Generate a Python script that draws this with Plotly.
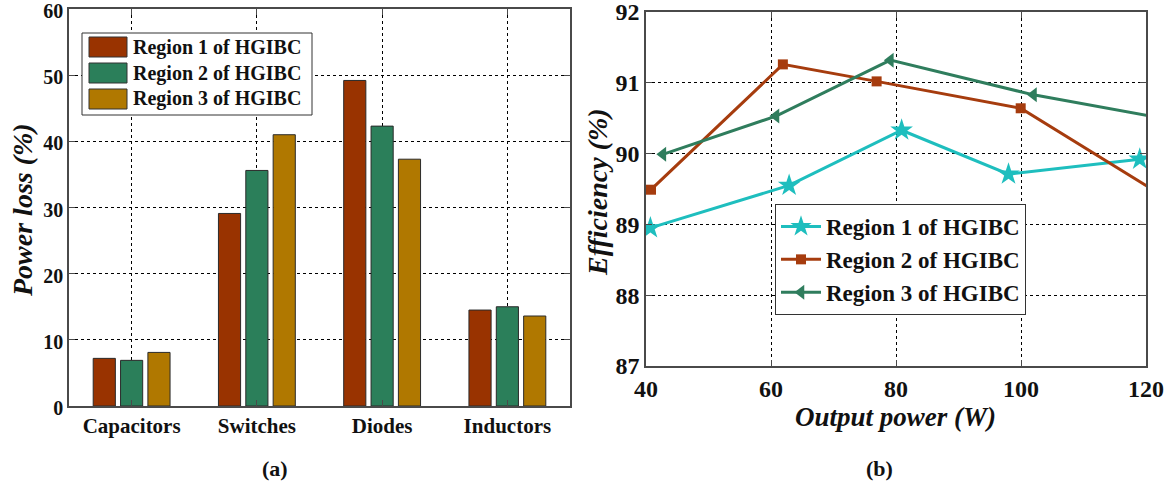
import plotly.graph_objects as go

# ---- data -------------------------------------------------------------
components = ["Capacitors", "Switches", "Diodes", "Inductors"]
region_names = ["Region 1 of HGIBC", "Region 2 of HGIBC", "Region 3 of HGIBC"]

loss_region1 = [7.2, 29.1, 49.2, 14.5]
loss_region2 = [6.9, 35.6, 42.3, 15.0]
loss_region3 = [8.1, 41.0, 37.3, 13.6]

power_region1 = [40.7, 62.9, 80.9, 98.0, 119.0]
eff_region1 = [88.95, 89.55, 90.33, 89.71, 89.92]

power_region2 = [40.8, 61.9, 76.9, 99.95, 122.0]
eff_region2 = [89.49, 91.26, 91.02, 90.64, 89.44]

power_region3 = [42.7, 60.8, 79.1, 102.0, 122.0]
eff_region3 = [89.99, 90.53, 91.32, 90.83, 90.51]

y_ticks_loss = [0, 10, 20, 30, 40, 50, 60]
x_ticks_power = [40, 60, 80, 100, 120]
y_ticks_eff = [87, 88, 89, 90, 91, 92]

# ---- style ------------------------------------------------------------
W, H = 1171, 490
FONT = "Liberation Serif, Times New Roman, serif"
bar_colors = ["#993300", "#2B7F5A", "#B07800"]
line_colors = ["#1EBEBE", "#A63C0E", "#2F7D5D"]
frame = "#4a4a4a"
ink = "#111111"


def px(x):
    return x / W


def py(y):
    return 1 - y / H


fig = go.Figure()

# ---- (a) power-loss breakdown ----------------------------------------
for vals, name, col in zip([loss_region1, loss_region2, loss_region3], region_names, bar_colors):
    fig.add_trace(go.Bar(
        x=components, y=vals, name=name, showlegend=False,
        marker=dict(color=col, line=dict(color="#2a2a2a", width=1)),
        xaxis="x", yaxis="y",
    ))

# ---- (b) efficiency vs output power ----------------------------------
line_sets = [
    (power_region1, eff_region1, "star", 17),
    (power_region2, eff_region2, "square", 10),
    (power_region3, eff_region3, "triangle-left", 13),
]
for (xs, ys, sym, size), name, col in zip(line_sets, region_names, line_colors):
    fig.add_trace(go.Scatter(
        x=xs, y=ys, name=name, mode="lines+markers",
        line=dict(color=col, width=3),
        marker=dict(symbol=sym, size=size, color=col, line=dict(width=0)),
        cliponaxis=True,
        xaxis="x2", yaxis="y2",
    ))

axis_common = dict(
    showline=True, mirror="ticks", linecolor=frame, linewidth=1.5,
    showgrid=True, gridcolor="#000000", gridwidth=1, griddash="dot",
    zeroline=False, ticks="inside", ticklen=6, tickcolor=frame,
    automargin=False, ticklabeloverflow="allow",
)

fig.update_layout(
    width=W, height=H,
    margin=dict(l=0, r=0, t=0, b=0),
    paper_bgcolor="white", plot_bgcolor="white",
    barmode="group", bargap=0.345, bargroupgap=0.19,
    font=dict(family=FONT, color=ink),
    xaxis=dict(
        domain=[px(69), px(570)], anchor="y", type="category",
        tickfont=dict(family=FONT, size=21, weight="bold", color=ink),
        **axis_common,
    ),
    yaxis=dict(
        domain=[py(406), py(9)], anchor="x", range=[0, 60],
        tickvals=y_ticks_loss, ticklabelshift=2,
        tickfont=dict(family=FONT, size=20, weight="bold", color=ink),
        **axis_common,
    ),
    xaxis2=dict(
        domain=[px(646), px(1146)], anchor="y2", range=[40, 120],
        tickvals=x_ticks_power,
        tickfont=dict(family=FONT, size=24, weight="bold", color=ink),
        **axis_common,
    ),
    yaxis2=dict(
        domain=[py(366), py(12)], anchor="x2", range=[87, 92],
        tickvals=y_ticks_eff,
        tickfont=dict(family=FONT, size=24, weight="bold", color=ink),
        **axis_common,
    ),
    legend=dict(
        x=px(775), y=py(204), xanchor="left", yanchor="top",
        bgcolor="white", bordercolor="#333333", borderwidth=1,
        font=dict(family=FONT, size=23, weight="bold", color=ink),
        itemwidth=40, tracegroupgap=0,
    ),
    showlegend=True,
)

# ---- legend box for the bar panel ------------------------------------
shapes = [dict(type="rect", xref="paper", yref="paper",
               x0=px(82), x1=px(312), y0=py(115), y1=py(33),
               line=dict(color="#333333", width=1), fillcolor="white", layer="above")]
annotations = []
row_centres = [47, 73, 99]
for yc, name, col in zip(row_centres, region_names, bar_colors):
    shapes.append(dict(type="rect", xref="paper", yref="paper",
                       x0=px(89), x1=px(127), y0=py(yc + 10), y1=py(yc - 10),
                       line=dict(color="#333333", width=1), fillcolor=col, layer="above"))
    annotations.append(dict(xref="paper", yref="paper", x=px(131), y=py(yc),
                            xanchor="left", yanchor="middle", showarrow=False,
                            text=name,
                            font=dict(family=FONT, size=20, weight="bold", color=ink)))

# ---- axis titles and panel labels -------------------------------------
title_font = dict(family=FONT, size=28, weight="bold", style="italic", color=ink)
annotations += [
    dict(xref="paper", yref="paper", x=px(22), y=py(210), text="Power loss (%)",
         textangle=-90, showarrow=False, xanchor="center", yanchor="middle", font=title_font),
    dict(xref="paper", yref="paper", x=px(597), y=py(192), text="Efficiency (%)",
         textangle=-90, showarrow=False, xanchor="center", yanchor="middle", font=title_font),
    dict(xref="paper", yref="paper", x=px(896), y=py(417), text="Output power (W)",
         showarrow=False, xanchor="center", yanchor="middle",
         font=dict(family=FONT, size=27, weight="bold", style="italic", color=ink)),
    dict(xref="paper", yref="paper", x=px(275), y=py(468), text="(a)",
         showarrow=False, xanchor="center", yanchor="middle",
         font=dict(family=FONT, size=22, weight="bold", color=ink)),
    dict(xref="paper", yref="paper", x=px(879), y=py(468), text="(b)",
         showarrow=False, xanchor="center", yanchor="middle",
         font=dict(family=FONT, size=22, weight="bold", color=ink)),
]

fig.update_layout(shapes=shapes, annotations=annotations)

fig.write_html("out.html")
